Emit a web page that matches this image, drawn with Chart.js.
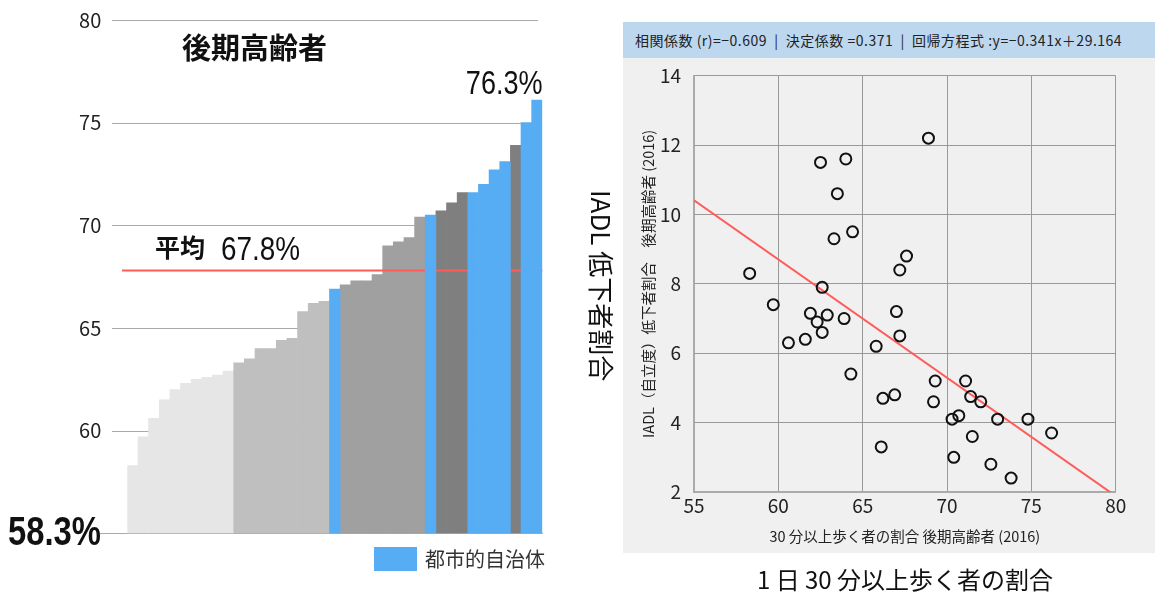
<!DOCTYPE html>
<html lang="ja">
<head>
<meta charset="utf-8">
<script src="https://cdn.jsdelivr.net/npm/chart.js@4.4.1/dist/chart.umd.min.js"></script>
<style>
  html, body { margin: 0; padding: 0; background: #fff; }
  body { width: 1165px; height: 602px; position: relative; overflow: hidden;
         font-family: "Noto Sans CJK JP", "Noto Sans", sans-serif; color: #111; }
  .abs { position: absolute; white-space: pre; line-height: 1; }
  #barWrap { position: absolute; left: 0; top: 0; width: 560px; height: 602px; }
  #scatWrap { position: absolute; left: 560px; top: 0; width: 605px; height: 602px; }
  #panel { position: absolute; left: 623px; top: 22px; width: 532px; height: 531px; background: #f0f0f0; }
  #panelHead { position: absolute; left: 623px; top: 22px; width: 532px; height: 36px; background: #bdd7ee;
               font-size: 14px; line-height: 36px; color: #222; padding-left: 12px; box-sizing: border-box;
               white-space: pre; letter-spacing: 0.5px; }
  .narrow { font-family: "Liberation Sans", Arial, sans-serif; display: inline-block; transform: scaleX(0.82); }
</style>
</head>
<body>
<div id="panel"></div>
<div id="panelHead"></div>

<div id="barWrap"><canvas id="barChart"></canvas></div>
<div id="scatWrap"><canvas id="scatterChart"></canvas></div>

<div class="abs" style="left:182px; top:32px; font-size:29px; font-weight:bold;">後期高齢者</div>
<div class="abs narrow" id="maxLabel" style="right:622px; top:66px; font-size:33px; transform-origin: 100% 50%;"></div>
<div class="abs" style="left:155px; top:234px; font-size:25px; font-weight:bold;">平均</div>
<div class="abs narrow" id="avgLabel" style="left:221px; top:231px; font-size:34px; transform-origin: 0 50%;"></div>
<div class="abs narrow" id="minLabel" style="left:8px; top:511px; font-size:40px; font-weight:bold; transform-origin: 0 50%;"></div>

<div class="abs" style="left:374px; top:547px; width:43px; height:24px; background:#57adf3;"></div>
<div class="abs" style="left:425px; top:549px; font-size:20px; color:#333;">都市的自治体</div>

<div class="abs" style="left:588px; top:190px; font-size:26px; transform-origin: 0 0; transform: translate(27px, 0) rotate(90deg);">IADL 低下者割合</div>
<div class="abs" style="left:905px; top:567px; font-size:24px; transform: translateX(-50%);">1 日 30 分以上歩く者の割合</div>

<script>
// 後期高齢者: 1日30分以上歩く者の割合 (昇順, 39自治体)
const barValues = [58.3, 59.7, 60.6, 61.5, 62.0, 62.3, 62.5, 62.6, 62.7, 62.9,
                   63.3, 63.5, 64.0, 64.0, 64.4, 64.5, 65.8, 66.2, 66.3, 66.9,
                   67.1, 67.3, 67.3, 67.6, 69.0, 69.2, 69.4, 70.4, 70.5, 70.7,
                   71.1, 71.6, 71.6, 72.0, 72.7, 73.1, 73.9, 75.0, 76.1];
// 都市的自治体かどうか
const urban = [0,0,0,0,0,0,0,0,0,0, 0,0,0,0,0,0,0,0,0,1,
               0,0,0,0,0,0,0,0,1,0, 0,0,1,1,1,1,0,1,1];
// 非都市的自治体の区分 (1-4)
const tier = [1,1,1,1,1,1,1,1,1,1, 2,2,2,2,2,2,2,2,2,0,
              3,3,3,3,3,3,3,3,0,4, 4,4,0,0,0,0,4,0,0];
const avgValue = 67.8;
const minText = "58.3%";
const maxText = "76.3%";
const barTicks = [55, 60, 65, 70, 75, 80];

// 散布図: x = 30分以上歩く者の割合, y = IADL低下者割合
const walkX = [68.9, 62.5, 64.0, 63.5, 63.3, 64.4, 67.6, 67.2, 58.3, 62.6,
               59.7, 61.9, 62.9, 62.3, 63.9, 67.0, 62.6, 61.6, 60.6, 67.2,
               65.8, 64.3, 69.3, 71.1, 66.2, 66.9, 69.2, 71.4, 72.0, 70.7,
               70.3, 73.0, 74.8, 76.2, 71.5, 66.1, 70.4, 72.6, 73.8];
const iadlY = [12.2, 11.5, 11.6, 10.6, 9.3, 9.5, 8.8, 8.4, 8.3, 7.9,
               7.4, 7.15, 7.1, 6.9, 7.0, 7.2, 6.6, 6.4, 6.3, 6.5,
               6.2, 5.4, 5.2, 5.2, 4.7, 4.8, 4.6, 4.75, 4.6, 4.2,
               4.1, 4.1, 4.1, 3.7, 3.6, 3.3, 3.0, 2.8, 2.4];
const corrR = "-0.609";
const r2 = "0.371";
const slope = -0.341;
const intercept = 29.164;
const regX = [55, 80];

const BLUE = "#57adf3";
const tierColors = { 1: "#e6e6e6", 2: "#c0bfc0", 3: "#a0a0a0", 4: "#7f7f7f" };
const FONT = '"Noto Sans CJK JP", "Noto Sans", sans-serif';

document.getElementById("maxLabel").textContent = maxText;
document.getElementById("minLabel").textContent = minText;
document.getElementById("avgLabel").textContent = avgValue + "%";
document.getElementById("panelHead").textContent =
  "相関係数 (r)=" + corrR.replace("-", "−") + "  |  決定係数 =" + r2 +
  "  |  回帰方程式 :y=" + String(slope).replace("-", "−") + "x＋" + intercept;

// Bar chart: grid lines and average line
const barDecor = {
  id: "barDecor",
  beforeDatasetsDraw(chart) {
    const { ctx, scales: { y } } = chart;
    ctx.save();
    ctx.strokeStyle = "#aaaaaa";
    ctx.lineWidth = 1;
    barTicks.forEach((t) => {
      const py = Math.round(y.getPixelForValue(t)) + 0.5;
      ctx.beginPath();
      ctx.moveTo(t === 55 ? 100 : 112, py);
      ctx.lineTo(t === 55 ? 543 : 538, py);
      ctx.stroke();
    });
    ctx.restore();
  },
  afterDatasetDraw(chart, args) {
    if (args.index !== 0) return;
    const { ctx, chartArea, scales: { y } } = chart;
    const py = y.getPixelForValue(avgValue);
    ctx.save();
    ctx.strokeStyle = "#ff5b5b";
    ctx.lineWidth = 2;
    ctx.beginPath();
    ctx.moveTo(122, py);
    ctx.lineTo(chartArea.right, py);
    ctx.stroke();
    ctx.restore();
  },
};

new Chart(document.getElementById("barChart"), {
  type: "bar",
  data: {
    labels: barValues.map((_, i) => String(i + 1)),
    datasets: [
      {
        data: barValues.map((v, i) => (urban[i] ? null : v)),
        backgroundColor: tier.map((t) => tierColors[t] || BLUE),
        order: 2,
      },
      {
        data: barValues.map((v, i) => (urban[i] ? v : null)),
        backgroundColor: BLUE,
        order: 1,
      },
    ],
  },
  options: {
    responsive: true,
    maintainAspectRatio: false,
    animation: false,
    grouped: false,
    categoryPercentage: 1,
    barPercentage: 1,
    borderWidth: 0,
    layout: { padding: { left: 0, right: 17.7, top: 20, bottom: 68.7 } },
    plugins: { legend: { display: false }, tooltip: { enabled: false } },
    scales: {
      x: { display: false },
      y: {
        min: 55,
        max: 80,
        afterFit: (s) => {
          s.width = 127.3;
          s.paddingTop = 0;
          s.paddingBottom = 0;
        },
        afterBuildTicks: (s) => { s.ticks = barTicks.map((v) => ({ value: v })); },
        ticks: {
          padding: 26,
          color: "#222",
          font: { size: 20, family: FONT },
          callback: (v) => (v === 55 ? "" : v),
        },
        grid: { display: false, drawTicks: false },
        border: { display: false },
      },
    },
  },
  plugins: [barDecor],
});

// Scatter chart
new Chart(document.getElementById("scatterChart"), {
  type: "scatter",
  data: {
    datasets: [
      {
        data: walkX.map((x, i) => ({ x, y: iadlY[i] })),
        pointRadius: 5.5,
        borderWidth: 2,
        borderColor: "#111",
        backgroundColor: "rgba(0,0,0,0)",
        order: 1,
      },
      {
        type: "line",
        data: regX.map((x) => ({ x, y: slope * x + intercept })),
        borderColor: "#ff5b5b",
        borderWidth: 2,
        pointRadius: 0,
        order: 2,
      },
    ],
  },
  options: {
    responsive: true,
    maintainAspectRatio: false,
    animation: false,
    layout: { padding: { left: 80, right: 49.3, top: 75.7, bottom: 57 } },
    plugins: { legend: { display: false }, tooltip: { enabled: false } },
    scales: {
      x: {
        min: 55,
        max: 80,
        afterFit: (s) => { s.height = 53; },
        ticks: { stepSize: 5, padding: 2, color: "#222", font: { size: 19, family: FONT } },
        grid: { color: "#999", lineWidth: 1, drawTicks: false },
        border: { color: "#aaa", width: 2 },
        title: {
          display: true,
          text: "30 分以上歩く者の割合 後期高齢者 (2016)",
          color: "#222",
          font: { size: 14.5, family: FONT },
          padding: 0,
        },
      },
      y: {
        min: 2,
        max: 14,
        afterFit: (s) => { s.width = 54; },
        ticks: { stepSize: 2, padding: 13, color: "#222", font: { size: 19, family: FONT } },
        grid: { color: "#999", lineWidth: 1, drawTicks: false },
        border: { color: "#aaa", width: 2 },
        title: {
          display: true,
          text: "IADL（自立度）低下者割合　後期高齢者 (2016)",
          color: "#222",
          font: { size: 14.5, family: FONT },
          padding: 0,
        },
      },
    },
  },
});
</script>
</body>
</html>
